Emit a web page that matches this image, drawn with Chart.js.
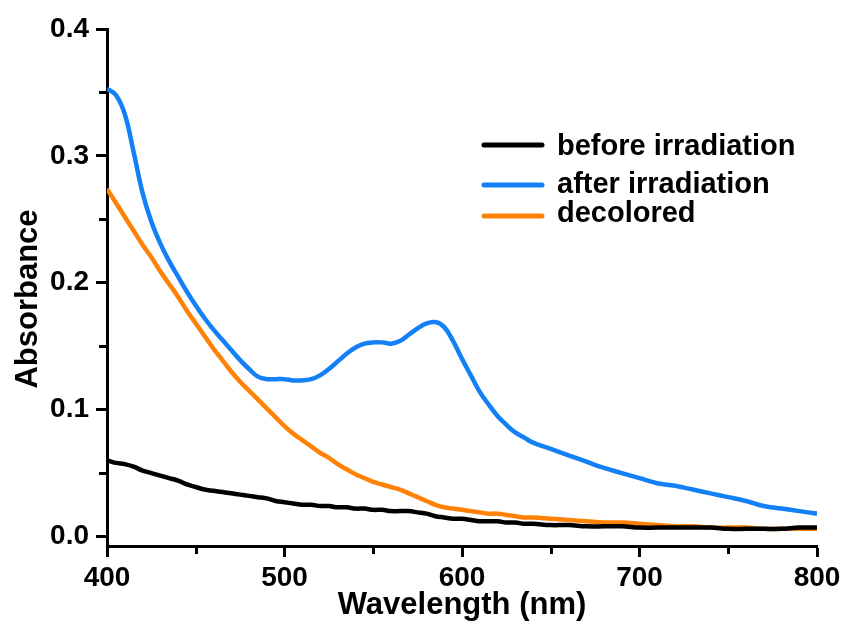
<!DOCTYPE html>
<html>
<head>
<meta charset="utf-8">
<title>Absorbance spectra</title>
<script src="https://cdn.jsdelivr.net/npm/chart.js@4.4.0/dist/chart.umd.min.js"></script>
<style>
    body { margin: 0; background: #fff; }
    #wrap { width: 847px; height: 628px; }
</style>
</head>
<body>
<div id="wrap"><canvas id="myChart"></canvas></div>
<script>
// wavelength grid (nm): 5 nm steps to 640, then 10 nm
const wavelength = [
    400, 405, 410, 415, 420, 425, 430, 435, 440, 445,
    450, 455, 460, 465, 470, 475, 480, 485, 490, 495,
    500, 505, 510, 515, 520, 525, 530, 535, 540, 545,
    550, 555, 560, 565, 570, 575, 580, 585, 590, 595,
    600, 605, 610, 615, 620, 625, 630, 635, 640, 650,
    660, 670, 680, 690, 700, 710, 720, 730, 740, 750,
    760, 770, 780, 790, 800
];

const beforeIrradiation = [
    0.060, 0.058, 0.057, 0.055, 0.052, 0.050, 0.048, 0.046, 0.044, 0.041,
    0.039, 0.037, 0.036, 0.035, 0.034, 0.033, 0.032, 0.031, 0.030, 0.028,
    0.027, 0.026, 0.025, 0.025, 0.024, 0.024, 0.023, 0.023, 0.022, 0.022,
    0.021, 0.021, 0.020, 0.020, 0.020, 0.019, 0.018, 0.016, 0.015, 0.014,
    0.014, 0.013, 0.012, 0.012, 0.012, 0.011, 0.011, 0.010, 0.010, 0.009,
    0.009, 0.008, 0.008, 0.008, 0.007, 0.007, 0.007, 0.007, 0.007, 0.006,
    0.006, 0.006, 0.006, 0.007, 0.007
];

const afterIrradiation = [
    0.353, 0.348, 0.333, 0.303, 0.271, 0.248, 0.231, 0.217, 0.205, 0.193,
    0.182, 0.172, 0.163, 0.155, 0.147, 0.139, 0.132, 0.126, 0.124, 0.124,
    0.124, 0.123, 0.123, 0.124, 0.127, 0.132, 0.138, 0.144, 0.149, 0.152,
    0.153, 0.153, 0.152, 0.154, 0.159, 0.164, 0.168, 0.169, 0.165, 0.154,
    0.140, 0.127, 0.114, 0.104, 0.095, 0.088, 0.082, 0.078, 0.074, 0.069,
    0.064, 0.059, 0.054, 0.050, 0.046, 0.042, 0.040, 0.037, 0.034, 0.031,
    0.028, 0.024, 0.022, 0.020, 0.018
];

const decolored = [
    0.274, 0.263, 0.252, 0.241, 0.230, 0.220, 0.209, 0.199, 0.189, 0.178,
    0.168, 0.158, 0.148, 0.139, 0.130, 0.122, 0.115, 0.108, 0.101, 0.094,
    0.087, 0.081, 0.076, 0.071, 0.066, 0.062, 0.057, 0.053, 0.049, 0.046,
    0.043, 0.041, 0.039, 0.037, 0.034, 0.031, 0.028, 0.025, 0.023, 0.022,
    0.021, 0.020, 0.019, 0.018, 0.018, 0.017, 0.016, 0.015, 0.015, 0.014,
    0.013, 0.012, 0.011, 0.011, 0.010, 0.009, 0.008, 0.008, 0.007, 0.007,
    0.007, 0.006, 0.006, 0.006, 0.006
];

const seriesNames = ['before irradiation', 'after irradiation', 'decolored'];
const seriesColors = ['#000000', '#1480f5', '#ff8106'];

const xTicks = [400, 500, 600, 700, 800];
const xMinorTicks = [450, 550, 650, 750];
const yTicks = [0.0, 0.1, 0.2, 0.3, 0.4];
const yMinorTicks = [0.05, 0.15, 0.25, 0.35];

const FONT = '"Liberation Sans", Arial, sans-serif';

function toPoints(ys) {
    return wavelength.map((w, i) => ({ x: w, y: ys[i] }));
}

// minor ticks, y-axis title and the legend block
const extras = {
    id: 'extras',
    afterDraw(chart) {
        const ctx = chart.ctx;
        const xs = chart.scales.x, ys = chart.scales.y;
        const area = chart.chartArea;
        ctx.save();
        ctx.strokeStyle = '#000';
        ctx.lineWidth = 3;
        ctx.beginPath();
        xMinorTicks.forEach(v => {
            const px = Math.round(xs.getPixelForValue(v)) + 0.5;
            ctx.moveTo(px, area.bottom);
            ctx.lineTo(px, area.bottom + 8);
        });
        yMinorTicks.forEach(v => {
            const py = Math.round(ys.getPixelForValue(v)) + 0.5;
            ctx.moveTo(area.left, py);
            ctx.lineTo(area.left - 8, py);
        });
        ctx.stroke();

        // y title
        ctx.fillStyle = '#000';
        ctx.font = 'bold 31px ' + FONT;
        ctx.textAlign = 'center';
        ctx.textBaseline = 'middle';
        ctx.translate(28, 299);
        ctx.rotate(-Math.PI / 2);
        ctx.fillText('Absorbance', 0, 0);
        ctx.restore();

        // legend
        const lineY = [145, 185, 216];
        const textY = [155, 193, 222];
        ctx.save();
        ctx.lineWidth = 5;
        ctx.lineCap = 'round';
        ctx.font = 'bold 29px ' + FONT;
        ctx.textAlign = 'left';
        ctx.textBaseline = 'alphabetic';
        seriesNames.forEach((name, i) => {
            ctx.strokeStyle = seriesColors[i];
            ctx.beginPath();
            ctx.moveTo(484, lineY[i]);
            ctx.lineTo(542, lineY[i]);
            ctx.stroke();
            ctx.fillStyle = '#000';
            ctx.fillText(name, 557, textY[i]);
        });
        ctx.restore();
    }
};

const data1 = {
    datasets: [beforeIrradiation, afterIrradiation, decolored].map((ys, i) => ({
        label: seriesNames[i],
        data: toPoints(ys),
        borderColor: seriesColors[i],
        borderWidth: 4.5,
        pointRadius: 0,
        tension: 0.4,
        fill: false
    }))
};

const config = {
    type: 'line',
    data: data1,
    options: {
        responsive: true,
        maintainAspectRatio: false,
        animation: false,
        layout: { padding: { top: 29, right: 30, left: 0, bottom: 0 } },
        plugins: {
            legend: { display: false },
            tooltip: { enabled: false }
        },
        scales: {
            x: {
                type: 'linear',
                min: 400,
                max: 800,
                afterFit(scale) { scale.height = 82; },
                afterBuildTicks(scale) { scale.ticks = xTicks.map(v => ({ value: v })); },
                border: { display: true, color: '#000', width: 3 },
                grid: { drawOnChartArea: false, drawTicks: true, tickLength: 11, tickWidth: 3, tickColor: '#000' },
                ticks: {
                    color: '#000',
                    padding: 4,
                    maxRotation: 0,
                    font: { family: FONT, size: 28, weight: 'bold' }
                },
                title: {
                    display: true,
                    text: 'Wavelength (nm)',
                    color: '#000',
                    padding: { top: 0, bottom: 4 },
                    font: { family: FONT, size: 31, weight: 'bold' }
                }
            },
            y: {
                type: 'linear',
                min: -0.0075,
                max: 0.4,
                afterFit(scale) { scale.width = 107; },
                afterBuildTicks(scale) { scale.ticks = yTicks.map(v => ({ value: v })); },
                border: { display: true, color: '#000', width: 3 },
                grid: { drawOnChartArea: false, drawTicks: true, tickLength: 11, tickWidth: 3, tickColor: '#000' },
                ticks: {
                    color: '#000',
                    padding: 7,
                    font: { family: FONT, size: 28, weight: 'bold' },
                    callback: v => v.toFixed(1)
                }
            }
        }
    },
    plugins: [extras]
};

const myChart = new Chart(document.getElementById('myChart'), config);
</script>
</body>
</html>
